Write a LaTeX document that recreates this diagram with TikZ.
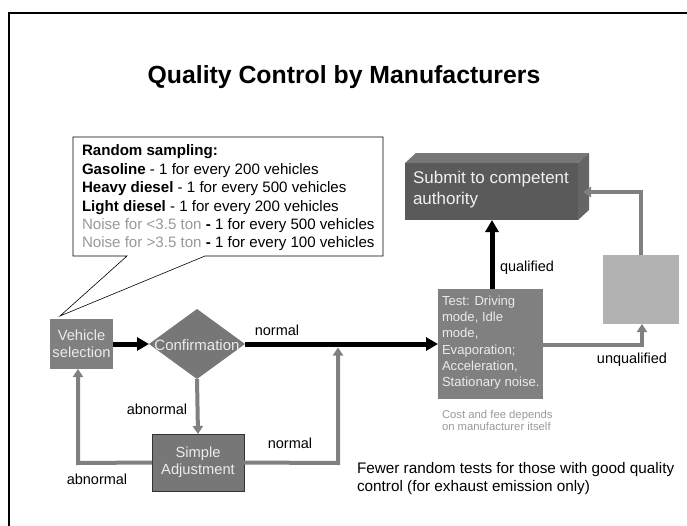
\documentclass[tikz,border=0pt]{standalone}
\usepackage{fontspec}
\setmainfont{Liberation Sans}
\usetikzlibrary{arrows.meta,shapes.geometric}
\definecolor{boxgray}{HTML}{808080}
\definecolor{linegray}{HTML}{808080}
\definecolor{lightbox}{HTML}{B2B2B2}
\definecolor{frontgray}{HTML}{5A5A5A}
\definecolor{topgray}{HTML}{777777}
\definecolor{sidegray}{HTML}{656565}
\definecolor{txtgray}{HTML}{999999}
\begin{document}
\begin{tikzpicture}[x=1pt,y=-1pt,
  every node/.style={inner sep=0pt,outer sep=0pt},
  procbox/.style={fill=boxgray,text=white!92!black,font=\fontsize{14.7}{17}\selectfont,align=center},
  blackarrow/.style={line width=5pt,draw=black,-{Triangle[length=12pt,width=13pt]}},
  grayarrow/.style={line width=4pt,draw=linegray,-{Triangle[length=8pt,width=10pt]}},
  lbl/.style={font=\fontsize{14.5}{17}\selectfont,text=black},
]
\useasboundingbox (0,0) rectangle (687,525);
% frame
\draw[line width=2.2pt] (9,530) -- (9,13) -- (700,13);
% title
\node[font=\fontsize{24.8}{28}\bfseries] (title) at (344,77) {Quality Control by Manufacturers};

% callout
\coordinate (tip) at (60,316);
\coordinate (cb1) at (127,256);
\coordinate (cb2) at (205,256);
\draw[fill=white,line width=0.6pt] (73,137) -- (383,137) -- (383,256) -- (cb2) -- (tip) -- (cb1) -- (73,256) -- cycle;
\node[anchor=north west,align=left,font=\fontsize{15.1}{18.4}\selectfont] (sampling) at (82,145) {%
\textbf{Random sampling:}\\
\textbf{Gasoline} - 1 for every 200 vehicles\\
\textbf{Heavy diesel} - 1 for every 500 vehicles\\
\textbf{Light diesel} - 1 for every 200 vehicles\\
\textcolor{txtgray}{Noise for <3.5 ton} \textbf{-} 1 for every 500 vehicles\\
\textcolor{txtgray}{Noise for >3.5 ton} \textbf{-} 1 for every 100 vehicles};

% nodes
\node[procbox,minimum width=63pt,minimum height=50pt] (veh) at (81.5,344) {Vehicle\\selection};
\node[procbox,diamond,fill=topgray,minimum width=96pt,minimum height=70pt,aspect=1.37] (conf) at (197,344) {};
\node[text=white!92!black,font=\fontsize{15}{17}\selectfont] (conftxt) at (197,345) {Confirmation};
\node[procbox,fill=topgray,draw=black!80,line width=0.8pt,minimum width=92pt,minimum height=57pt] (adj) at (198,462.5) {Simple\\Adjustment};
\node[fill=boxgray,minimum width=105pt,minimum height=110pt] (test) at (490.5,344) {};
\node[anchor=north west,align=left,text=white!92!black,font=\fontsize{13.1}{16.2}\selectfont] (testtxt) at (442,296) {Test: Driving\\mode, Idle\\mode,\\Evaporation;\\Acceleration,\\Stationary noise.};
\node[fill=lightbox,minimum width=76pt,minimum height=69pt] (grey) at (641,289.5) {};

% 3D submit box
\fill[topgray] (405,163) -- (416,153) -- (589,153) -- (578,163) -- cycle;
\fill[sidegray] (578,163) -- (589,153) -- (589,210) -- (578,220) -- cycle;
\node[fill=frontgray,minimum width=173pt,minimum height=57pt] (submit) at (491.5,191.5) {};
\node[anchor=north west,align=left,text=white!94!black,font=\fontsize{17}{21}\selectfont] (subtxt) at (413,171) {Submit to competent\\authority};
\coordinate (subside) at (583,192);

% connectors
\draw[blackarrow] (veh.east) -- (conf.west);
\draw[blackarrow] (conf.east) -- (test.west);
\node[lbl,anchor=south] (lnormal1) at (277,336) {normal};
\draw[grayarrow] (conf.south) -- (adj.north);
\node[lbl] (labn1) at (157,409) {abnormal};
\coordinate (jl) at (78,463);
\draw[grayarrow] (adj.west) -- (jl) -- (veh.south -| jl);
\node[lbl] (labn2) at (97,479) {abnormal};
\coordinate (jr) at (338,463);
\coordinate (jtop) at (338,347.5);
\draw[grayarrow] (adj.east) -- (jr) -- (jtop);
\node[lbl] (lnormal2) at (290,443) {normal};
\draw[blackarrow] (test.north -| 492,0) -- (submit.south -| 492,0);
\node[lbl,anchor=west] (lqual) at (500,268) {qualified};
\coordinate (jt) at (642,345);
\draw[grayarrow] (test.east |- jt) -- (jt) -- (grey.south -| jt);
\node[lbl] (lunq) at (632,360) {unqualified};
\coordinate (jg) at (641,192);
\draw[grayarrow] (grey.north -| jg) -- (jg) -- (subside);
\node[anchor=north west,align=left,text=txtgray,font=\fontsize{11.3}{12.6}\selectfont] (cost) at (442,410) {Cost and fee depends\\on manufacturer itself};
\node[anchor=north west,align=left,font=\fontsize{15.3}{18}\selectfont] (fewer) at (357,462) {Fewer random tests for those with good quality\\control (for exhaust emission only)};
\end{tikzpicture}
\end{document}
